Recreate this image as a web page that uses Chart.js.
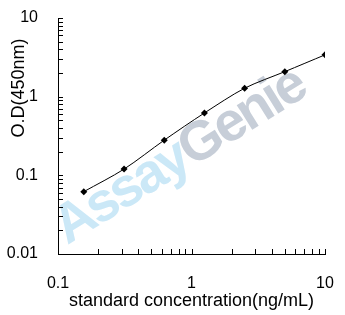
<!DOCTYPE html>
<html>
<head>
<meta charset="utf-8">
<script src="https://cdn.jsdelivr.net/npm/chart.js@4.4.1/dist/chart.umd.min.js"></script>
<style>
  html, body { margin: 0; padding: 0; background: #fff; }
  #wrap { width: 345px; height: 315px; position: relative; }
</style>
</head>
<body>
<div id="wrap"><canvas id="chart"></canvas></div>
<script>
// standard curve values
const concentrations = [0.156, 0.3125, 0.625, 1.25, 2.5, 5, 10];
const odValues = [0.062, 0.12, 0.28, 0.62, 1.28, 2.08, 3.4];
const xTickLabels = [0.1, 1, 10];
const yTickLabels = [0.01, 0.1, 1, 10];
const xTitle = 'standard concentration(ng/mL)';
const yTitle = 'O.D(450nm)';
const watermarkParts = ['Assay', 'Genie'];

const FONT = 'Arial, "Liberation Sans", sans-serif';

// 1..9 x 10^n ticks between the labelled decades
function decadeTicks(labels) {
    let ticks = [];
    for (let i = 0; i < labels.length - 1; i++) {
        for (let k = 1; k <= 9; k++) ticks.push({ value: +(labels[i] * k).toPrecision(3) });
    }
    ticks.push({ value: labels[labels.length - 1] });
    return ticks;
}

const inwardTicks = {
    id: 'inwardTicks',
    afterDraw(chart) {
        const ctx = chart.ctx;
        const xs = chart.scales.x, ys = chart.scales.y;
        ctx.save();
        ctx.strokeStyle = '#000';
        ctx.lineWidth = 1;
        ctx.beginPath();
        xs.ticks.forEach(t => {
            const px = Math.round(xs.getPixelForValue(t.value)) + 0.5;
            ctx.moveTo(px, xs.top);
            ctx.lineTo(px, xs.top - 5);
        });
        ys.ticks.forEach(t => {
            const py = Math.round(ys.getPixelForValue(t.value)) + 0.5;
            ctx.moveTo(ys.right, py);
            ctx.lineTo(ys.right + 5, py);
        });
        ctx.stroke();
        ctx.restore();
    }
};

const watermark = {
    id: 'watermark',
    beforeDraw(chart) {
        const ctx = chart.ctx;
        ctx.save();
        ctx.font = 'bold 55px ' + FONT;
        ctx.letterSpacing = '-3px';
        ctx.translate(180, 157);
        ctx.rotate(-32 * Math.PI / 180);
        const w0 = ctx.measureText(watermarkParts[0]).width;
        const w1 = ctx.measureText(watermarkParts[1]).width;
        let x = -(w0 + w1) / 2;
        ctx.textBaseline = 'middle';
        ctx.fillStyle = '#cbe8f7';
        ctx.fillText(watermarkParts[0], x, 0);
        ctx.fillStyle = '#c7ced8';
        ctx.fillText(watermarkParts[1], x + w0, 0);
        ctx.restore();
    }
};

const yAxisTitle = {
    id: 'yAxisTitle',
    afterDraw(chart) {
        const ctx = chart.ctx;
        ctx.save();
        ctx.font = '18px ' + FONT;
        ctx.fillStyle = '#000';
        ctx.textAlign = 'center';
        ctx.textBaseline = 'middle';
        ctx.translate(19, 88);
        ctx.rotate(-Math.PI / 2);
        ctx.fillText(yTitle, 0, 0);
        ctx.restore();
    }
};

new Chart(document.getElementById('chart'), {
    type: 'line',
    data: {
        datasets: [{
            data: concentrations.map((c, i) => ({ x: c, y: odValues[i] })),
            borderColor: '#000',
            borderWidth: 1,
            backgroundColor: '#000',
            pointStyle: 'rectRot',
            pointRadius: 3.5,
            pointBorderWidth: 0,
            tension: 0.3,
            fill: false
        }]
    },
    options: {
        responsive: true,
        maintainAspectRatio: false,
        animation: false,
        layout: { padding: { top: 18, right: 20, left: 0, bottom: 0 } },
        plugins: { legend: { display: false }, tooltip: { enabled: false } },
        scales: {
            x: {
                type: 'logarithmic',
                min: xTickLabels[0],
                max: xTickLabels[xTickLabels.length - 1],
                afterBuildTicks: s => { s.ticks = decadeTicks(xTickLabels); },
                afterFit: s => { s.height = 61; s.paddingLeft = 0; s.paddingRight = 0; },
                grid: { display: false, drawTicks: false },
                border: { display: true, color: '#000', width: 1 },
                ticks: {
                    autoSkip: false, maxRotation: 0, padding: 20,
                    color: '#000', font: { family: FONT, size: 16 },
                    callback: v => xTickLabels.includes(v) ? String(v) : ''
                },
                title: {
                    display: true, text: xTitle, color: '#000',
                    font: { family: FONT, size: 18 },
                    padding: { top: 0, bottom: 3 }
                }
            },
            y: {
                type: 'logarithmic',
                min: yTickLabels[0],
                max: yTickLabels[yTickLabels.length - 1],
                afterBuildTicks: s => { s.ticks = decadeTicks(yTickLabels); },
                afterFit: s => { s.width = 58; s.paddingTop = 0; s.paddingBottom = 0; },
                grid: { display: false, drawTicks: false },
                border: { display: true, color: '#000', width: 1 },
                ticks: {
                    autoSkip: false, padding: 20,
                    color: '#000', font: { family: FONT, size: 16 },
                    callback: v => yTickLabels.includes(v) ? String(v) : ''
                }
            }
        }
    },
    plugins: [watermark, inwardTicks, yAxisTitle]
});
</script>
</body>
</html>
